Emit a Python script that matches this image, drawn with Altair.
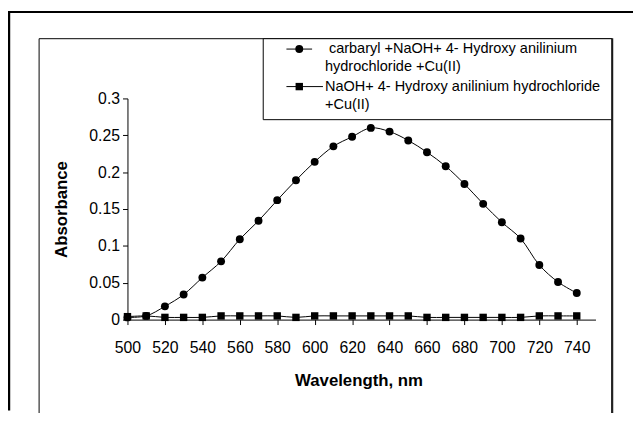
import altair as alt
import pandas as pd

# ---------------- data ----------------
wavelengths = [500, 510, 520, 530, 540, 550, 560, 570, 580, 590, 600, 610, 620,
               630, 640, 650, 660, 670, 680, 690, 700, 710, 720, 730, 740]
carbaryl = [0.003, 0.005, 0.018, 0.034, 0.057, 0.079, 0.109, 0.134, 0.162, 0.189,
            0.214, 0.235, 0.248, 0.260, 0.255, 0.243, 0.227, 0.208, 0.184, 0.157,
            0.132, 0.110, 0.074, 0.051, 0.036]
blank = [0.004, 0.005, 0.003, 0.003, 0.003, 0.005, 0.005, 0.005, 0.005, 0.003,
         0.005, 0.005, 0.005, 0.005, 0.005, 0.005, 0.003, 0.003, 0.003, 0.003,
         0.003, 0.003, 0.005, 0.005, 0.005]
series_names = ["carbaryl +NaOH+ 4- Hydroxy anilinium hydrochloride +Cu(II)",
                "NaOH+ 4- Hydroxy anilinium hydrochloride +Cu(II)"]
legend_lines = [["carbaryl +NaOH+ 4- Hydroxy anilinium", "hydrochloride +Cu(II)"],
                ["NaOH+ 4- Hydroxy anilinium hydrochloride", "+Cu(II)"]]
x_ticks = [500, 520, 540, 560, 580, 600, 620, 640, 660, 680, 700, 720, 740]
y_ticks = [0, 0.05, 0.1, 0.15, 0.2, 0.25, 0.3]
x_title = "Wavelength, nm"
y_title = "Absorbance"

df = pd.DataFrame({
    "wavelength": wavelengths * 2,
    "absorbance": carbaryl + blank,
    "series": [series_names[0]] * len(wavelengths) + [series_names[1]] * len(wavelengths),
})

FONT = "Liberation Sans"
W, H = 474, 224
CIRCLE_SIZE, SQUARE_SIZE = 64, 56

x_axis = alt.Axis(values=x_ticks, format="d", title=x_title, tickCount=len(x_ticks),
                  titleX=234, titleY=62, titleBaseline="middle",
                  labelPadding=15, labelOverlap=False, labelFlush=False,
                  labelBound=False, labelSeparation=0)
y_axis = alt.Axis(values=y_ticks, format="~g", title=y_title, tickCount=len(y_ticks),
                  titleX=-67, titleY=112, titleBaseline="middle",
                  titleAngle=270, labelPadding=3, labelOverlap=False,
                  labelFlush=False, labelBound=False, labelSeparation=0)
x_scale = alt.Scale(domain=[500, 750], nice=False, zero=False)
y_scale = alt.Scale(domain=[0, 0.3], nice=False)

base = alt.Chart(df)
lines = base.mark_line(interpolate="catmull-rom", color="black", strokeWidth=1).encode(
    x=alt.X("wavelength:Q", scale=x_scale, axis=x_axis),
    y=alt.Y("absorbance:Q", scale=y_scale, axis=y_axis),
    detail="series:N")
points = base.mark_point(filled=True, opacity=1, color="black").encode(
    x=alt.X("wavelength:Q", scale=x_scale, axis=x_axis),
    y=alt.Y("absorbance:Q", scale=y_scale, axis=y_axis),
    shape=alt.Shape("series:N", scale=alt.Scale(domain=series_names, range=["circle", "square"]), legend=None),
    size=alt.Size("series:N", scale=alt.Scale(domain=series_names, range=[CIRCLE_SIZE, SQUARE_SIZE]), legend=None),
)

one = pd.DataFrame({"k": [0]})


def rule(x1, y1, x2, y2, w=1, color="black"):
    return alt.Chart(one).mark_rule(color=color, strokeWidth=w).encode(
        x=alt.value(x1), y=alt.value(y1), x2=alt.value(x2), y2=alt.value(y2))


# frames (decoration, plot-relative pixel coords)
outer_top = rule(-121, -87.5, 512, -87.5, 2)
outer_left = rule(-120, -88.5, -120, 316, 2.5)
inner_frame = alt.Chart(one).mark_rect(fillOpacity=0, stroke="black", strokeWidth=1).encode(
    x=alt.value(-89.5), y=alt.value(-60.5), x2=alt.value(490.5), y2=alt.value(330))
inner_right = rule(491, -61, 491, 330, 2, "#222222")
legend_box = alt.Chart(one).mark_rect(fill="white", stroke="black", strokeWidth=1).encode(
    x=alt.value(137.5), y=alt.value(-60.5), x2=alt.value(490.5), y2=alt.value(21.5))

legend_rows = [-50, -31.5, -12, 6.5]
leg = []
leg.append(rule(161, legend_rows[0], 187, legend_rows[0], 1))
leg.append(alt.Chart(one).mark_point(shape="circle", filled=True, opacity=1, color="black", size=CIRCLE_SIZE).encode(
    x=alt.value(174), y=alt.value(legend_rows[0])))
leg.append(rule(161, legend_rows[2], 198, legend_rows[2], 1))
leg.append(alt.Chart(one).mark_point(shape="square", filled=True, opacity=1, color="black", size=SQUARE_SIZE).encode(
    x=alt.value(174), y=alt.value(legend_rows[2])))
text_x = [204, 200, 200, 200]
flat = [legend_lines[0][0], legend_lines[0][1], legend_lines[1][0], legend_lines[1][1]]
for i, t in enumerate(flat):
    leg.append(alt.Chart(one).mark_text(align="left", baseline="middle", font=FONT,
                                        fontSize=14.7, color="black").encode(
        x=alt.value(text_x[i]), y=alt.value(legend_rows[i]), text=alt.value(t)))

chart = alt.layer(lines, points, outer_top, outer_left, inner_frame, inner_right, legend_box,
                  *leg).properties(
    width=W, height=H,
    autosize=alt.AutoSizeParams(type="none"),
    padding={"left": 121, "top": 89, "right": 38, "bottom": 92},
    background="white",
).configure_view(stroke=None).configure_axis(
    grid=False, domainColor="black", tickColor="black", domainWidth=1, tickWidth=1,
    tickSize=5, labelColor="black", titleColor="black", labelFont=FONT,
    labelFontSize=16, titleFont=FONT, titleFontSize=17, titleFontWeight="bold",
    zindex=1,
)

chart.save("out.html", embed_options={"renderer": "svg", "actions": False})
